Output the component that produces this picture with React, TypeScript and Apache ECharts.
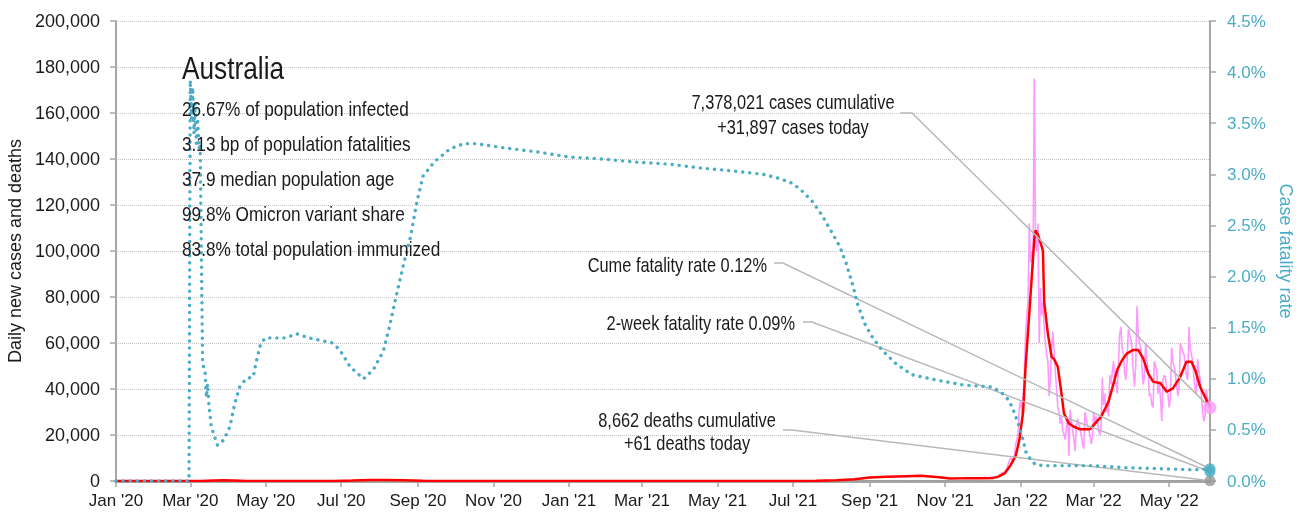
import React, { useEffect, useRef } from "react";
import * as echarts from "echarts";

// ---------- data ----------
const country = "Australia";
const statLines = [
  "26.67% of population infected",
  "3.13 bp of population fatalities",
  "37.9 median population age",
  "99.8% Omicron variant share",
  "83.8% total population immunized",
];

const xMin = "2020-01-01";
const xMax = "2022-06-03";
const xTickDates = [
  "2020-01-01", "2020-03-01", "2020-05-01", "2020-07-01", "2020-09-01", "2020-11-01",
  "2021-01-01", "2021-03-01", "2021-05-01", "2021-07-01", "2021-09-01", "2021-11-01",
  "2022-01-01", "2022-03-01", "2022-05-01",
];
const monthNames = ["Jan", "Feb", "Mar", "Apr", "May", "Jun", "Jul", "Aug", "Sep", "Oct", "Nov", "Dec"];

// daily new cases (raw), one value per day from this date
const casesDailyStart = "2021-12-01";
const casesDaily = [
  // Dec 2021
  1400, 1500, 1600, 1300, 1200, 1400, 1500, 1700, 1800, 1900, 1600, 1500, 1700, 2200, 2800, 3000,
  3700, 3500, 3900, 4500, 5500, 7500, 9000, 10000, 9000, 8000, 10500, 16000, 18000, 21000, 32000,
  // Jan 2022
  35000, 29000, 37000, 47000, 64000, 72000, 78000, 112000, 95000, 100000, 92000, 175000, 105000, 100000,
  112000, 60000, 84000, 72000, 78000, 67000, 60000, 55000, 52000, 37000, 44000, 58000, 65000, 57000,
  48000, 40000, 32000,
  // Feb
  30000, 25000, 28000, 22000, 20000, 18000, 24000, 28000, 11000, 31000, 26000, 22000, 18000, 13000,
  24000, 27000, 25000, 23000, 20000, 16000, 14000, 30000, 27000, 24000, 22000, 20000, 16000, 19000,
  // Mar
  30000, 25000, 28000, 26000, 22000, 20000, 24000, 45000, 33000, 38000, 30000, 33000, 28000, 46000,
  42000, 47000, 52000, 45000, 42000, 38000, 50000, 64000, 67000, 58000, 55000, 47000, 44000, 52000,
  66000, 64000, 62000,
  // Apr
  57000, 48000, 41000, 50000, 76000, 64000, 60000, 58000, 50000, 42000, 45000, 60000, 52000, 48000,
  37000, 38000, 33000, 32000, 52000, 50000, 48000, 38000, 42000, 36000, 26000, 44000, 46000, 45000,
  40000, 38000,
  // May
  32000, 36000, 58000, 52000, 50000, 46000, 42000, 37000, 40000, 60000, 58000, 56000, 55000, 50000,
  46000, 44000, 67000, 57000, 55000, 52000, 45000, 40000, 38000, 53000, 48000, 44000, 38000, 30000,
  26000, 28000, 40000,
  // Jun
  36000, 33000, 31897,
];

// 7-day average of new cases
const casesAvgDates = [
  "2020-01-01", "2020-02-29", "2020-03-10", "2020-03-20", "2020-03-28", "2020-04-05", "2020-04-15",
  "2020-05-01", "2020-06-01", "2020-06-25", "2020-07-10", "2020-07-25", "2020-08-05", "2020-08-20",
  "2020-09-05", "2020-09-25", "2020-11-01", "2021-01-01", "2021-03-01", "2021-06-01", "2021-07-01",
  "2021-07-20", "2021-08-05", "2021-08-20", "2021-09-01", "2021-09-15", "2021-10-01", "2021-10-12",
  "2021-10-25", "2021-11-05", "2021-11-20", "2021-12-01", "2021-12-10", "2021-12-14", "2021-12-19",
  "2021-12-24", "2021-12-28", "2021-12-31", "2022-01-03", "2022-01-05", "2022-01-08", "2022-01-10",
  "2022-01-12", "2022-01-13", "2022-01-15", "2022-01-18", "2022-01-19", "2022-01-20", "2022-01-23",
  "2022-01-26", "2022-01-28", "2022-01-31", "2022-02-03", "2022-02-05", "2022-02-09", "2022-02-13",
  "2022-02-18", "2022-02-26", "2022-03-01", "2022-03-07", "2022-03-11", "2022-03-13", "2022-03-16",
  "2022-03-20", "2022-03-24", "2022-03-28", "2022-04-02", "2022-04-06", "2022-04-10", "2022-04-14",
  "2022-04-18", "2022-04-24", "2022-04-29", "2022-05-04", "2022-05-10", "2022-05-15", "2022-05-19",
  "2022-05-22", "2022-05-26", "2022-06-03",
];
const casesAvg = [
  0, 2, 15, 250, 370, 230, 50,
  15, 12, 40, 200, 420, 480, 300,
  100, 20, 10, 20, 10, 15, 30,
  150, 350, 800, 1500, 1800, 2100, 2300,
  1700, 1100, 1250, 1200, 1350, 1900, 3300,
  7000, 11000, 18000, 30000, 50000, 73000, 89000,
  105000, 109000, 107000, 102000, 100000, 78000, 64000,
  54000, 53000, 49700, 38000, 29400, 25000, 23600,
  22500, 22500, 24300, 28000, 32300, 34500, 40300,
  48300, 52600, 55500, 57000, 57000, 53300, 46800,
  43200, 42500, 38800, 40300, 45300, 51900, 51900,
  48300, 41000, 32000,
];

// 7-day average of new deaths
const deathsAvgDates = [
  "2020-01-01", "2020-04-05", "2020-08-10", "2020-09-15", "2021-01-01", "2021-09-20", "2021-10-15",
  "2021-12-01", "2022-01-20", "2022-02-10", "2022-03-10", "2022-04-15", "2022-05-25", "2022-06-03",
];
const deathsAvg = [0, 4, 18, 3, 0, 12, 15, 3, 75, 50, 25, 35, 50, 55];

// cumulative case fatality rate (%)
const cfrDates = [
  "2020-01-01", "2020-02-29", "2020-03-01", "2020-03-02", "2020-03-03", "2020-03-04", "2020-03-05",
  "2020-03-06", "2020-03-07", "2020-03-08", "2020-03-09", "2020-03-10", "2020-03-11", "2020-03-13",
  "2020-03-14", "2020-03-15", "2020-03-16", "2020-03-18", "2020-03-23", "2020-03-28", "2020-04-02",
  "2020-04-06", "2020-04-10", "2020-04-15", "2020-04-21", "2020-04-23", "2020-04-27", "2020-05-01",
  "2020-05-17", "2020-05-26", "2020-06-05", "2020-06-24", "2020-06-30", "2020-07-08", "2020-07-19",
  "2020-07-27", "2020-08-04", "2020-08-09", "2020-08-15", "2020-08-20", "2020-08-26", "2020-08-31",
  "2020-09-05", "2020-09-14", "2020-09-27", "2020-10-08", "2020-10-18", "2020-10-29", "2020-11-09",
  "2020-12-06", "2021-01-01", "2021-01-28", "2021-02-24", "2021-03-23", "2021-04-19", "2021-05-16",
  "2021-06-07", "2021-06-20", "2021-07-01", "2021-07-09", "2021-07-17", "2021-07-25", "2021-08-02",
  "2021-08-08", "2021-08-13", "2021-08-18", "2021-08-22", "2021-08-28", "2021-09-03", "2021-09-11",
  "2021-09-22", "2021-10-05", "2021-10-24", "2021-11-15", "2021-12-09", "2021-12-17", "2021-12-21",
  "2021-12-25", "2021-12-28", "2021-12-31", "2022-01-03", "2022-01-05", "2022-01-09", "2022-01-13",
  "2022-01-20", "2022-03-01", "2022-03-28", "2022-04-25", "2022-05-22", "2022-06-03",
];
const cfr = [
  0, 0, 3.92, 3.55, 3.85, 3.4, 3.7,
  3.3, 3.55, 3.25, 3.3, 2.2, 1.15, 1.06,
  0.82, 0.95, 0.76, 0.53, 0.35, 0.4, 0.53,
  0.76, 0.92, 1.0, 1.02, 1.15, 1.35, 1.4,
  1.4, 1.44, 1.4, 1.35, 1.28, 1.12, 1.0,
  1.09, 1.27, 1.51, 1.84, 2.1, 2.39, 2.72,
  2.98, 3.12, 3.25, 3.3, 3.3, 3.28, 3.26,
  3.22, 3.17, 3.15, 3.12, 3.1, 3.06, 3.03,
  3.0, 2.96, 2.91, 2.83, 2.73, 2.59, 2.42,
  2.29, 2.13, 1.93, 1.74, 1.54, 1.41, 1.28,
  1.15, 1.04, 0.99, 0.94, 0.92, 0.86, 0.81,
  0.73, 0.63, 0.53, 0.4, 0.29, 0.21, 0.16,
  0.15, 0.15, 0.13, 0.12, 0.11, 0.12,
];

// latest values
const lastDate = "2022-06-03";
const casesCumulative = 7378021;
const casesToday = 31897;
const deathsCumulative = 8662;
const deathsToday = 61;
const cumeFatalityRate = 0.12;
const twoWeekFatalityRate = 0.09;

// ---------- helpers ----------
const ts = (s: string) => {
  const [y, m, d] = s.split("-").map(Number);
  return Date.UTC(y, m - 1, d);
};
const DAY = 86400000;
const fmt = (n: number) => n.toLocaleString("en-US");

const FONT = '"Liberation Sans", Arial, sans-serif';
const NARROW = 0.82;
const TEAL = "#4bacc6";
const PINK = "#ff99ff";
const RED = "#ff0000";
const GREY = "#a6a6a6";
const INK = "#1a1a1a";

export default function App() {
  const ref = useRef<HTMLDivElement>(null);

  useEffect(() => {
    if (!ref.current) return;
    const chart = echarts.init(ref.current, undefined, { renderer: "svg" });
    const start = ts(casesDailyStart);
    const dailyData = casesDaily.map((v, i) => [start + i * DAY, v]);
    const avgData = casesAvgDates.map((d, i) => [ts(d), casesAvg[i]]);
    const deathData = deathsAvgDates.map((d, i) => [ts(d), deathsAvg[i]]);
    const cfrData = cfrDates.map((d, i) => [ts(d), cfr[i]]);
    const tickVals = xTickDates.map(ts);
    const tEnd = ts(lastDate);

    chart.setOption({
      animation: false,
      grid: { left: 116, right: 92, top: 21, bottom: 39, containLabel: false, outerBoundsMode: "none" },
      xAxis: {
        type: "value",
        min: ts(xMin),
        max: ts(xMax),
        axisLine: { show: true, lineStyle: { color: GREY, width: 3 } },
        axisTick: { show: true, customValues: tickVals, length: 6, lineStyle: { color: GREY, width: 1.5 } },
        axisLabel: {
          customValues: tickVals,
          margin: 11,
          color: INK,
          fontFamily: FONT,
          fontSize: 17,
          formatter: (v: number) => {
            const d = new Date(v);
            return `${monthNames[d.getUTCMonth()]} '${String(d.getUTCFullYear()).slice(2)}`;
          },
        },
        splitLine: { show: false },
      },
      yAxis: [
        {
          type: "value",
          min: 0,
          max: 200000,
          interval: 20000,
          name: "Daily new cases and deaths",
          nameLocation: "middle",
          nameGap: 90,
          nameTextStyle: { color: INK, fontFamily: FONT, fontSize: 18 },
          axisLine: { show: true, lineStyle: { color: GREY, width: 2 } },
          axisTick: { show: true, length: 6, lineStyle: { color: GREY, width: 1.5 } },
          axisLabel: { color: INK, fontFamily: FONT, fontSize: 18, margin: 16, formatter: (v: number) => fmt(v) },
          splitLine: { show: true, lineStyle: { color: "#c4c4c4", type: "dotted", width: 1 } },
        },
        {
          type: "value",
          min: 0,
          max: 4.5,
          interval: 0.5,
          position: "right",
          name: "Case fatality rate",
          nameLocation: "middle",
          nameGap: 64,
          nameRotate: -90,
          nameTextStyle: { color: TEAL, fontFamily: FONT, fontSize: 18 },
          axisLine: { show: true, lineStyle: { color: GREY, width: 2 } },
          axisTick: { show: true, length: 6, lineStyle: { color: GREY, width: 1.5 } },
          axisLabel: { color: TEAL, fontFamily: FONT, fontSize: 17, margin: 17, formatter: (v: number) => `${v.toFixed(1)}%` },
          splitLine: { show: false },
        },
      ],
      series: [
        {
          name: "Deaths (7-day avg)",
          type: "line",
          data: deathData,
          yAxisIndex: 0,
          showSymbol: false,
          lineStyle: { color: "#999", width: 1 },
          z: 1,
        },
        {
          name: "Daily new cases",
          type: "line",
          data: dailyData,
          yAxisIndex: 0,
          showSymbol: false,
          lineStyle: { color: PINK, width: 1.6 },
          z: 2,
        },
        {
          name: "Cases (7-day avg)",
          type: "line",
          data: avgData,
          yAxisIndex: 0,
          showSymbol: false,
          lineStyle: { color: RED, width: 2.5 },
          z: 3,
        },
        {
          name: "Case fatality rate",
          type: "line",
          data: cfrData,
          yAxisIndex: 1,
          showSymbol: false,
          lineStyle: { color: TEAL, width: 3.4, type: [0.1, 7], cap: "round" },
          z: 4,
        },
        {
          type: "scatter",
          yAxisIndex: 0,
          data: [[tEnd, deathsToday]],
          symbolSize: 11,
          itemStyle: { color: "#999" },
          z: 5,
        },
        {
          type: "scatter",
          yAxisIndex: 1,
          data: [[tEnd, cumeFatalityRate], [tEnd, twoWeekFatalityRate]],
          symbolSize: 11,
          itemStyle: { color: TEAL },
          z: 6,
        },
        {
          type: "scatter",
          yAxisIndex: 0,
          data: [[tEnd, casesToday]],
          symbolSize: 13,
          itemStyle: { color: PINK },
          z: 6,
        },
      ],
    });

    const p0 = (v: number) => chart.convertToPixel({ xAxisIndex: 0, yAxisIndex: 0 }, [tEnd, v]) as number[];
    const p1 = (v: number) => chart.convertToPixel({ xAxisIndex: 0, yAxisIndex: 1 }, [tEnd, v]) as number[];
    const casesPt = p0(casesToday);
    const deathsPt = p0(deathsToday);
    const cumePt = p1(cumeFatalityRate);
    const twoPt = p1(twoWeekFatalityRate);

    const lineStyle = { stroke: "#b8b8b8", lineWidth: 1.5, fill: null };
    const txt = (text: string, x: number, y: number, size: number, align: string, color = INK) => ({
      type: "text",
      silent: true,
      z: 20,
      x,
      y,
      scaleX: NARROW,
      style: { text, x: 0, y: 0, fill: color, fontFamily: FONT, fontSize: size, align, verticalAlign: "middle" },
    });

    chart.setOption({
      graphic: [
        txt(country, 182, 68, 32, "left"),
        ...statLines.map((s, i) => txt(s, 182, [109, 144, 179, 214, 249][i], 21, "left")),
        txt(`${fmt(casesCumulative)} cases cumulative`, 793, 102, 20, "center"),
        txt(`+${fmt(casesToday)} cases today`, 793, 127, 20, "center"),
        txt(`Cume fatality rate ${cumeFatalityRate.toFixed(2)}%`, 767, 265, 20, "right"),
        txt(`2-week fatality rate ${twoWeekFatalityRate.toFixed(2)}%`, 795, 323, 20, "right"),
        txt(`${fmt(deathsCumulative)} deaths cumulative`, 687, 420, 20, "center"),
        txt(`+${deathsToday} deaths today`, 687, 443, 20, "center"),
        { type: "polyline", silent: true, z: 4, shape: { points: [[900, 113], [912, 113], casesPt] }, style: lineStyle },
        { type: "polyline", silent: true, z: 4, shape: { points: [[774, 263], [783, 263], cumePt] }, style: lineStyle },
        { type: "polyline", silent: true, z: 4, shape: { points: [[803, 322], [812, 322], twoPt] }, style: lineStyle },
        { type: "polyline", silent: true, z: 4, shape: { points: [[783, 430], [792, 430], deathsPt] }, style: lineStyle },
      ],
    });

    return () => chart.dispose();
  }, []);

  return <div ref={ref} style={{ position: "fixed", left: 0, top: 0, width: 1302, height: 520 }} />;
}
